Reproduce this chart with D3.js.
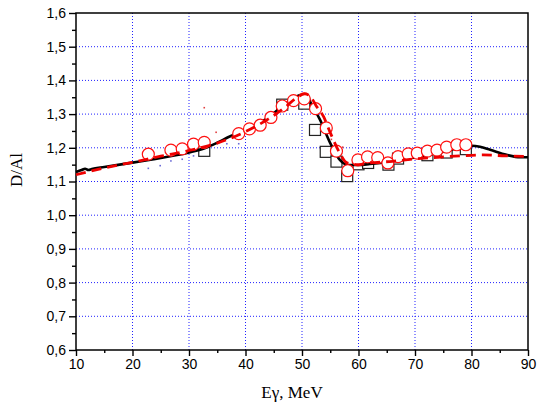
<!DOCTYPE html>
<html>
<head>
<meta charset="utf-8">
<script src="https://cdn.jsdelivr.net/npm/d3@7/dist/d3.min.js"></script>
<style>
  html, body { margin: 0; padding: 0; background: #fff; }
  svg { display: block; }
</style>
</head>
<body>
<svg id="chart" width="539" height="402"></svg>
<script>
// Photon energy (MeV) and D/Al ratio — measured points
const circleE = [22.8, 26.8, 28.8, 30.8, 32.7, 38.8, 40.7, 42.6, 44.5, 46.5, 48.5, 50.4, 52.4, 54.3, 56.1, 58.1, 59.9, 61.6, 63.4, 65.2, 67.0, 68.8, 70.4, 72.2, 73.9, 75.6, 77.4, 79.0];
const circleR = [1.181, 1.193, 1.197, 1.211, 1.216, 1.242, 1.256, 1.267, 1.290, 1.324, 1.340, 1.345, 1.316, 1.259, 1.190, 1.132, 1.164, 1.173, 1.171, 1.155, 1.174, 1.182, 1.184, 1.190, 1.193, 1.202, 1.209, 1.209];

const squareE = [32.7, 46.5, 50.4, 52.3, 54.2, 56.1, 58.0, 60.0, 61.7, 65.3, 67.0, 72.2, 75.6, 79.0];
const squareR = [1.191, 1.328, 1.331, 1.253, 1.188, 1.159, 1.116, 1.151, 1.155, 1.150, 1.168, 1.178, 1.186, 1.196];

// Small scattered points
const dotE = [22.8, 24.9, 26.8, 28.8, 30.8, 32.7, 34.8, 36.7, 38.8, 53.8, 55.2, 57.2];
const dotR = [1.139, 1.147, 1.161, 1.166, 1.176, 1.319, 1.246, 1.212, 1.212, 1.262, 1.225, 1.202];
const dotC = ["#6b6bd6", "#6b6bd6", "#6b6bd6", "#6b6bd6", "#6b6bd6", "#e04040", "#e04040", "#6b6bd6", "#6b6bd6", "#e04040", "#e04040", "#e04040"];

// Solid black calculated curve
const blackE = [10, 11, 11.6, 12.2, 12.8, 15, 20, 25, 30, 33, 35, 37, 40, 44, 46.5, 49, 50, 51, 51.7, 53.2, 55, 56.7, 58.2, 60, 62, 65.6, 70, 74.4, 78, 80, 81.5, 83.3, 86.2, 88.6, 90];
const blackR = [1.128, 1.134, 1.138, 1.134, 1.137, 1.143, 1.156, 1.170, 1.186, 1.200, 1.215, 1.232, 1.252, 1.290, 1.323, 1.352, 1.357, 1.350, 1.328, 1.283, 1.214, 1.164, 1.149, 1.149, 1.152, 1.159, 1.171, 1.186, 1.200, 1.206, 1.203, 1.194, 1.179, 1.172, 1.172];

// Dashed red calculated curve
const redE = [10, 15, 20, 25, 30, 35, 40, 44, 47, 49, 50.5, 51.5, 52.5, 53.8, 55, 56.5, 58, 60, 62, 66, 70, 74, 78, 82, 86, 90];
const redR = [1.120, 1.140, 1.157, 1.175, 1.192, 1.214, 1.248, 1.285, 1.320, 1.348, 1.360, 1.352, 1.325, 1.293, 1.245, 1.190, 1.155, 1.150, 1.155, 1.160, 1.167, 1.172, 1.176, 1.179, 1.176, 1.174];

const xTicks = [10, 20, 30, 40, 50, 60, 70, 80, 90];
const yTicks = [0.6, 0.7, 0.8, 0.9, 1.0, 1.1, 1.2, 1.3, 1.4, 1.5, 1.6];

const m = { left: 76, right: 528, top: 13, bottom: 350 };
const svg = d3.select("#chart");

const x = d3.scaleLinear().domain([10, 90]).range([m.left, m.right]);
const y = d3.scaleLinear().domain([0.6, 1.6]).range([m.bottom, m.top]);

const fmt = d => d3.format(".1f")(d).replace(".", ",");

// Grid
const grid = svg.append("g");
grid.selectAll("line.v").data(xTicks.slice(1, -1)).join("line")
  .attr("x1", d => x(d)).attr("x2", d => x(d))
  .attr("y1", m.top).attr("y2", m.bottom)
  .attr("stroke", "#2020ff").attr("stroke-width", 1).attr("stroke-dasharray", "1,2");
grid.selectAll("line.h").data(yTicks.slice(1, -1)).join("line")
  .attr("y1", d => y(d)).attr("y2", d => y(d))
  .attr("x1", m.left).attr("x2", m.right)
  .attr("stroke", "#2020ff").attr("stroke-width", 1).attr("stroke-dasharray", "1,2");

// Axes
const xAxis = d3.axisBottom(x).tickValues(xTicks).tickSize(6).tickPadding(3).tickFormat(d3.format("d"));
const xMinor = d3.axisBottom(x).tickValues(d3.range(15, 90, 10)).tickSize(3).tickFormat("");
const yAxis = d3.axisLeft(y).tickValues(yTicks).tickSize(7).tickPadding(3).tickFormat(fmt);
const yMinor = d3.axisLeft(y).tickValues(d3.range(0.65, 1.6, 0.1)).tickSize(4).tickFormat("");

function styleAxis(g) {
  g.select(".domain").remove();
  g.selectAll(".tick line").attr("stroke", "#000").attr("stroke-width", 1.4);
  g.selectAll("text").attr("fill", "#000").style("font-family", "'Liberation Sans', Arial, sans-serif").style("font-size", "14px");
}
svg.append("g").attr("transform", `translate(0,${m.bottom})`).call(xAxis).call(styleAxis);
svg.append("g").attr("transform", `translate(0,${m.bottom})`).call(xMinor).call(styleAxis);
svg.append("g").attr("transform", `translate(${m.left},0)`).call(yAxis).call(styleAxis);
svg.append("g").attr("transform", `translate(${m.left},0)`).call(yMinor).call(styleAxis);

// Frame
svg.append("rect")
  .attr("x", m.left).attr("y", m.top)
  .attr("width", m.right - m.left).attr("height", m.bottom - m.top)
  .attr("fill", "none").attr("stroke", "#000").attr("stroke-width", 1.5);

// Axis titles
svg.append("text")
  .attr("x", 292).attr("y", 398)
  .attr("text-anchor", "middle")
  .style("font-family", "'Liberation Serif', 'Times New Roman', serif").style("font-size", "17px")
  .text("Eγ, MeV");
svg.append("text")
  .attr("transform", "translate(22,170) rotate(-90)")
  .attr("text-anchor", "middle")
  .style("font-family", "'Liberation Serif', 'Times New Roman', serif").style("font-size", "17px")
  .text("D/Al");

const plot = svg.append("g");

// Scattered small points
plot.selectAll("rect.dot").data(dotE).join("rect")
  .attr("x", (d, i) => x(d) - 0.8).attr("y", (d, i) => y(dotR[i]) - 0.8)
  .attr("width", 1.6).attr("height", 1.6)
  .attr("fill", (d, i) => dotC[i]);

// Squares
const sq = 11;
plot.selectAll("rect.sq").data(squareE).join("rect")
  .attr("x", d => x(d) - sq / 2).attr("y", (d, i) => y(squareR[i]) - sq / 2)
  .attr("width", sq).attr("height", sq)
  .attr("fill", "#fff").attr("stroke", "#222").attr("stroke-width", 1.2);

// Solid curve
const line = d3.line().x(d => x(d[0])).y(d => y(d[1])).curve(d3.curveMonotoneX);
plot.append("path")
  .datum(blackE.map((e, i) => [e, blackR[i]]))
  .attr("d", line).attr("fill", "none")
  .attr("stroke", "#000").attr("stroke-width", 2.6);

// Circles
plot.selectAll("circle").data(circleE).join("circle")
  .attr("cx", d => x(d)).attr("cy", (d, i) => y(circleR[i]))
  .attr("r", 6)
  .attr("fill", "#fff").attr("stroke", "#ff1010").attr("stroke-width", 1.2);

// Dashed curve
plot.append("path")
  .datum(redE.map((e, i) => [e, redR[i]]))
  .attr("d", line).attr("fill", "none")
  .attr("stroke", "#ee0000").attr("stroke-width", 2.8)
  .attr("stroke-dasharray", "10,6");
</script>
</body>
</html>
